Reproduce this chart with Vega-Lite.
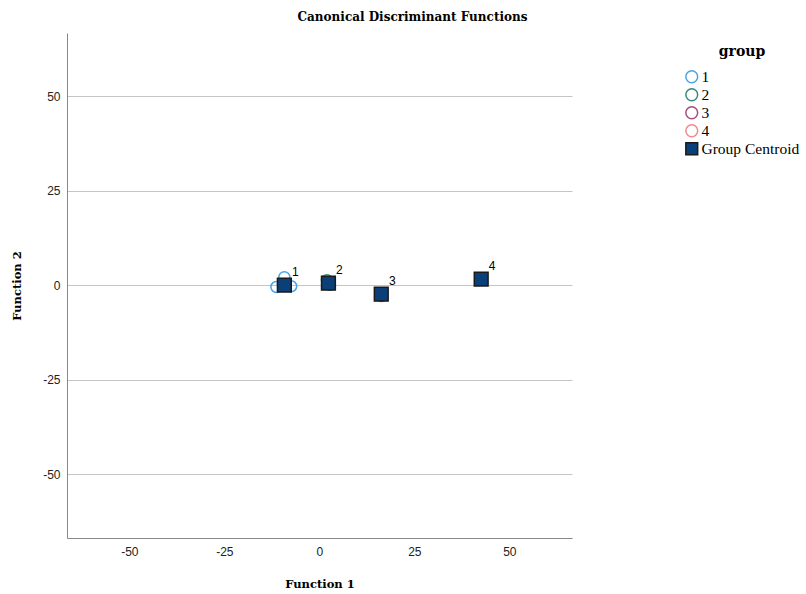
{
  "$schema": "https://vega.github.io/schema/vega-lite/v6.json",
  "autosize": "none",
  "width": 505,
  "height": 505,
  "padding": {"left": 67, "top": 33, "right": 234, "bottom": 56},
  "background": "white",
  "title": {
    "text": "Canonical Discriminant Functions",
    "font": "DejaVu Serif",
    "fontSize": 12,
    "fontWeight": "bold",
    "color": "#000000",
    "anchor": "middle",
    "dx": 93,
    "offset": 9
  },
  "config": {
    "view": {"stroke": null},
    "axis": {
      "labelFont": "Liberation Sans",
      "labelFontSize": 12,
      "labelColor": "#222222",
      "titleFont": "DejaVu Serif",
      "titleFontSize": 11.5,
      "titleFontWeight": "bold",
      "titleColor": "#000000",
      "domainColor": "#888888",
      "ticks": false,
      "gridColor": "#c4c4c4",
      "gridWidth": 1.2
    }
  },
  "data": {
    "values": [
      {"f1": -9.2, "f2": 2.1, "group": "1", "kind": "case"},
      {"f1": -11.3, "f2": -0.5, "group": "1", "kind": "case"},
      {"f1": -7.4, "f2": -0.3, "group": "1", "kind": "case"},
      {"f1": -9.6, "f2": 0.2, "group": "1", "kind": "case"},
      {"f1": 2.0, "f2": 1.3, "group": "2", "kind": "case"},
      {"f1": 2.8, "f2": 0.1, "group": "2", "kind": "case"},
      {"f1": 16.3, "f2": -2.9, "group": "3", "kind": "case"},
      {"f1": 42.6, "f2": 1.6, "group": "4", "kind": "case"},
      {"f1": -9.2, "f2": 0.0, "group": "Group Centroid", "label": "1", "kind": "centroid"},
      {"f1": 2.4, "f2": 0.5, "group": "Group Centroid", "label": "2", "kind": "centroid"},
      {"f1": 16.3, "f2": -2.4, "group": "Group Centroid", "label": "3", "kind": "centroid"},
      {"f1": 42.6, "f2": 1.6, "group": "Group Centroid", "label": "4", "kind": "centroid"}
    ]
  },
  "layer": [
    {
      "mark": {"type": "point", "strokeWidth": 1.5, "opacity": 1},
      "encoding": {
        "x": {
          "field": "f1", "type": "quantitative",
          "scale": {"domain": [-66.4, 66.5], "nice": false, "zero": false},
          "axis": {"title": "Function 1", "values": [-50, -25, 0, 25, 50], "labelExpr": "'' + datum.value", "grid": false, "labelPadding": 8, "titlePadding": 21}
        },
        "y": {
          "field": "f2", "type": "quantitative",
          "scale": {"domain": [-66.9, 66.7], "nice": false, "zero": false},
          "axis": {"title": "Function 2", "values": [-50, -25, 0, 25, 50], "labelExpr": "'' + datum.value", "grid": true, "labelPadding": 7, "titlePadding": 20}
        },
        "stroke": {
          "field": "group", "type": "nominal",
          "scale": {"domain": ["1", "2", "3", "4", "Group Centroid"], "range": ["#4aa3e8", "#3b8a7a", "#a64d7f", "#f28b8b", "#1a1a1a"]},
          "legend": {"title": "group"}
        },
        "fill": {
          "field": "group", "type": "nominal",
          "scale": {"domain": ["1", "2", "3", "4", "Group Centroid"], "range": ["rgba(0,0,0,0)", "rgba(0,0,0,0)", "rgba(0,0,0,0)", "rgba(0,0,0,0)", "#0b3f7a"]},
          "legend": {"title": "group"}
        },
        "shape": {
          "field": "group", "type": "nominal",
          "scale": {"domain": ["1", "2", "3", "4", "Group Centroid"], "range": ["circle", "circle", "circle", "circle", "square"]},
          "legend": {
            "title": "group",
            "orient": "none",
            "legendX": 617,
            "legendY": 12,
            "titleFont": "DejaVu Serif",
            "titleFontSize": 14,
            "titleFontWeight": "bold",
            "titleColor": "#000000",
            "titleAnchor": "middle",
            "titlePadding": 10,
            "labelFont": "Liberation Serif",
            "labelFontSize": 15.5,
            "labelColor": "#000000",
            "labelOffset": 2,
            "symbolSize": 140,
            "symbolStrokeWidth": 1.5,
            "rowPadding": -1
          }
        },
        "size": {
          "condition": {"test": "datum.kind === 'centroid'", "value": 190},
          "value": 120
        }
      }
    },
    {
      "transform": [{"filter": "datum.kind === 'centroid'"}],
      "mark": {"type": "text", "font": "Liberation Sans", "fontSize": 12, "color": "#000000", "dx": 11, "dy": -13},
      "encoding": {
        "x": {"field": "f1", "type": "quantitative"},
        "y": {"field": "f2", "type": "quantitative"},
        "text": {"field": "label"}
      }
    }
  ]
}
